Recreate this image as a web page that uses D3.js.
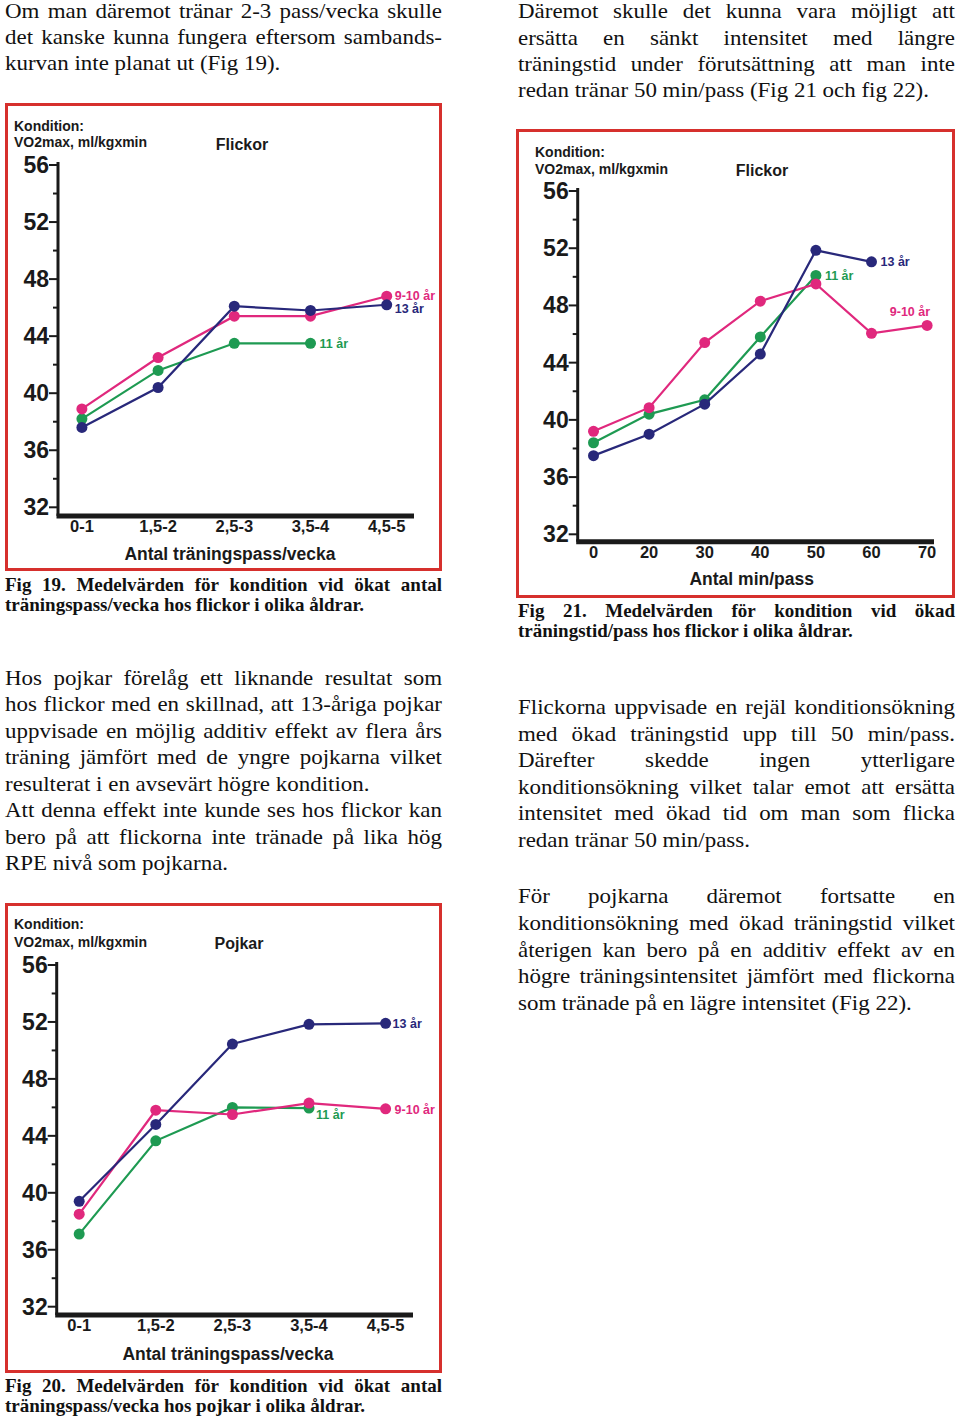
<!DOCTYPE html>
<html>
<head>
<meta charset="utf-8">
<script src="https://cdn.jsdelivr.net/npm/d3@7"></script>
<style>
  html, body { margin: 0; padding: 0; background: #fff; }
  svg { display: block; }
</style>
</head>
<body>
<script>
// ---------- DATA ----------
const catsPass = ["0-1", "1,5-2", "2,5-3", "3,5-4", "4,5-5"];
const catsMin = ["0", "20", "30", "40", "50", "60", "70"];
const yTicks = [32, 36, 40, 44, 48, 52, 56];
const seriesNames = ["9-10 år", "11 år", "13 år"];

// Fig 19 – Flickor, pass/vecka
const fig19_9_10 = [38.9, 42.5, 45.4, 45.4, 46.8];
const fig19_11   = [38.2, 41.6, 43.5, 43.5, null];
const fig19_13   = [37.6, 40.4, 46.1, 45.8, 46.2];

// Fig 21 – Flickor, min/pass
const fig21_9_10 = [39.2, 40.85, 45.4, 48.3, 49.5, 46.05, 46.6];
const fig21_11   = [38.4, 40.4, 41.4, 45.8, 50.1, null, null];
const fig21_13   = [37.5, 39.0, 41.1, 44.6, 51.85, 51.05, null];

// Fig 20 – Pojkar, pass/vecka
const fig20_9_10 = [38.5, 45.8, 45.5, 46.3, 45.9];
const fig20_11   = [37.1, 43.65, 46.0, 45.95, null];
const fig20_13   = [39.4, 44.8, 50.45, 51.83, 51.9];

// ---------- TEXT ----------
const paraTopLeft = [
  ["Om man däremot tränar 2-3 pass/vecka skulle", true],
  ["det kanske kunna fungera eftersom sambands-", true],
  ["kurvan inte planat ut (Fig 19).", false]
];
const paraTopRight = [
  ["Däremot skulle det kunna vara möjligt att", true],
  ["ersätta en sänkt intensitet med längre", true],
  ["träningstid under förutsättning att man inte", true],
  ["redan tränar 50 min/pass (Fig 21 och fig 22).", false]
];
const capFig19 = [
  ["Fig 19. Medelvärden för kondition vid ökat antal", true],
  ["träningspass/vecka hos flickor i olika åldrar.", false]
];
const capFig21 = [
  ["Fig 21. Medelvärden för kondition vid ökad", true],
  ["träningstid/pass hos flickor i olika åldrar.", false]
];
const capFig20 = [
  ["Fig 20. Medelvärden för kondition vid ökat antal", true],
  ["träningspass/vecka hos pojkar i olika åldrar.", false]
];
const paraMidLeft = [
  ["Hos pojkar förelåg ett liknande resultat som", true],
  ["hos flickor med en skillnad, att 13-åriga pojkar", true],
  ["uppvisade en möjlig additiv effekt av flera års", true],
  ["träning jämfört med de yngre pojkarna vilket", true],
  ["resulterat i en avsevärt högre kondition.", false],
  ["Att denna effekt inte kunde ses hos flickor kan", true],
  ["bero på att flickorna inte tränade på lika hög", true],
  ["RPE nivå som pojkarna.", false]
];
const paraMidRight = [
  ["Flickorna uppvisade en rejäl konditionsökning", true],
  ["med ökad träningstid upp till 50 min/pass.", true],
  ["Därefter skedde ingen ytterligare", true],
  ["konditionsökning vilket talar emot att ersätta", true],
  ["intensitet med ökad tid om man som flicka", true],
  ["redan tränar 50 min/pass.", false]
];
const paraLowRight = [
  ["För pojkarna däremot fortsatte en", true],
  ["konditionsökning med ökad träningstid vilket", true],
  ["återigen kan bero på en additiv effekt av en", true],
  ["högre träningsintensitet jämfört med flickorna", true],
  ["som tränade på en lägre intensitet (Fig 22).", false]
];

// ---------- STYLE ----------
const colors = { "9-10 år": "#e0287d", "11 år": "#1e9a52", "13 år": "#28287a" };
const serif = "'Liberation Serif', 'Times New Roman', serif";
const sans = "'Liberation Sans', Arial, sans-serif";

const svg = d3.select("body").append("svg")
  .attr("width", 960).attr("height", 1418)
  .attr("viewBox", "0 0 960 1418");

// ---------- justified text (with optional horizontal stretch sx) ----------
function block(lines, x0, x1, y0, lh, size, weight, sx) {
  const g = svg.append("g")
    .attr("transform", `translate(${x0},0) scale(${sx},1)`)
    .attr("font-family", serif).attr("font-size", size)
    .attr("font-weight", weight).attr("fill", "#111");
  const w = (x1 - x0) / sx;
  lines.forEach(([str, just], i) => {
    const y = y0 + i * lh;
    if (!just) {
      g.append("text").attr("x", 0).attr("y", y).text(str);
      return;
    }
    const words = str.split(" ");
    const nodes = words.map(t => g.append("text").attr("y", y).text(t));
    const widths = nodes.map(n => n.node().getComputedTextLength());
    const gap = (w - d3.sum(widths)) / (words.length - 1);
    let x = 0;
    nodes.forEach((n, k) => { n.attr("x", x); x += widths[k] + gap; });
  });
}

const bodySize = 20.5, bodySx = 1.12;
block(paraTopLeft, 5, 442, 18.4, 26, bodySize, "normal", bodySx);
block(paraTopRight, 518, 955, 18.4, 26.3, bodySize, "normal", bodySx);
block(capFig19, 5, 442, 590.7, 20, 19, "bold", 1);
block(capFig21, 518, 955, 616.7, 20.5, 19, "bold", 1);
block(paraMidLeft, 5, 442, 685, 26.5, bodySize, "normal", bodySx);
block(paraMidRight, 518, 955, 714, 26.55, bodySize, "normal", bodySx);
block(paraLowRight, 518, 955, 903.3, 26.67, bodySize, "normal", bodySx);
block(capFig20, 5, 442, 1391.7, 20, 19, "bold", 1);

// ---------- charts ----------
function chart(cfg) {
  const g = svg.append("g").attr("font-family", sans).attr("font-weight", "bold").attr("fill", "#1a1a1a");
  const f = cfg.frame;
  g.append("rect")
    .attr("x", f.x + 1.5).attr("y", f.y + 1.5)
    .attr("width", f.w - 3).attr("height", f.h - 3)
    .attr("fill", "#fff").attr("stroke", "#d6302d").attr("stroke-width", 3);

  const y = d3.scaleLinear().domain([32, 56]).range([cfg.y32, cfg.y56]);
  const x = d3.scalePoint().domain(cfg.cats).range(cfg.xRange);

  // header
  g.append("text").attr("x", cfg.headX).attr("y", cfg.headY1).attr("font-size", 14).text("Kondition:");
  g.append("text").attr("x", cfg.headX).attr("y", cfg.headY2).attr("font-size", 14).text("VO2max, ml/kgxmin");
  g.append("text").attr("x", cfg.titleX).attr("y", cfg.titleY).attr("font-size", 16)
    .attr("text-anchor", "middle").text(cfg.title);

  // y axis
  const minor = d3.range(34, 56, 4);
  g.selectAll(".minor").data(minor).join("line")
    .attr("x1", cfg.axisX - 5).attr("x2", cfg.axisX)
    .attr("y1", d => y(d)).attr("y2", d => y(d))
    .attr("stroke", "#1a1a1a").attr("stroke-width", 2);
  g.selectAll(".major").data(yTicks).join("line")
    .attr("x1", cfg.axisX - 9).attr("x2", cfg.axisX)
    .attr("y1", d => y(d)).attr("y2", d => y(d))
    .attr("stroke", "#1a1a1a").attr("stroke-width", 2);
  g.selectAll(".ylab").data(yTicks).join("text")
    .attr("x", cfg.axisX - 9).attr("y", d => y(d) + 8)
    .attr("text-anchor", "end").attr("font-size", 23).text(d => d);
  g.append("line")
    .attr("x1", cfg.axisX).attr("x2", cfg.axisX)
    .attr("y1", y(56) - 3).attr("y2", cfg.xAxisY)
    .attr("stroke", "#1a1a1a").attr("stroke-width", 3);

  // x axis
  g.append("line")
    .attr("x1", cfg.axisX - 1.5).attr("x2", cfg.xAxisRight)
    .attr("y1", cfg.xAxisY).attr("y2", cfg.xAxisY)
    .attr("stroke", "#1a1a1a").attr("stroke-width", 5);
  g.selectAll(".xlab").data(cfg.cats).join("text")
    .attr("x", d => x(d)).attr("y", cfg.xAxisY + 16.3)
    .attr("text-anchor", "middle").attr("font-size", 16.5).text(d => d);
  g.append("text").attr("x", cfg.xTitleX).attr("y", cfg.xTitleY)
    .attr("text-anchor", "middle").attr("font-size", 17.5).text(cfg.xTitle);

  // series: drawn green, pink, blue
  const order = ["11 år", "9-10 år", "13 år"];
  order.forEach(name => {
    const vals = cfg.series[name];
    const pts = cfg.cats.map((c, i) => ({ c, v: vals[i] })).filter(d => d.v != null);
    const col = colors[name];
    const line = d3.line().x(d => x(d.c)).y(d => y(d.v));
    g.append("path").attr("d", line(pts)).attr("fill", "none")
      .attr("stroke", col).attr("stroke-width", 2.2);
    g.selectAll(null).data(pts).join("circle")
      .attr("cx", d => x(d.c)).attr("cy", d => y(d.v)).attr("r", 5.5).attr("fill", col);
    const last = pts[pts.length - 1];
    const lp = cfg.labelPos[name];
    g.append("text")
      .attr("x", x(last.c) + lp.dx).attr("y", y(last.v) + lp.dy + 4.5)
      .attr("text-anchor", lp.anchor || "start")
      .attr("font-size", 12.5).attr("fill", col).text(name);
  });
}

chart({
  frame: { x: 5, y: 103, w: 437, h: 468 },
  cats: catsPass, xRange: [81.9, 386.7],
  axisX: 58, y56: 165, y32: 507.3, xAxisY: 516, xAxisRight: 414,
  headX: 14, headY1: 131, headY2: 147, title: "Flickor", titleX: 242, titleY: 150,
  xTitle: "Antal träningspass/vecka", xTitleX: 230, xTitleY: 560,
  series: { "9-10 år": fig19_9_10, "11 år": fig19_11, "13 år": fig19_13 },
  labelPos: { "9-10 år": { dx: 8, dy: -1 }, "11 år": { dx: 9, dy: 0 }, "13 år": { dx: 8, dy: 4 } }
});

chart({
  frame: { x: 516, y: 129, w: 439, h: 469 },
  cats: catsMin, xRange: [593.5, 927.1],
  axisX: 577.7, y56: 191, y32: 534.3, xAxisY: 541.7, xAxisRight: 934,
  headX: 535, headY1: 157.3, headY2: 174, title: "Flickor", titleX: 762, titleY: 175.7,
  xTitle: "Antal min/pass", xTitleX: 751.7, xTitleY: 585,
  series: { "9-10 år": fig21_9_10, "11 år": fig21_11, "13 år": fig21_13 },
  labelPos: { "9-10 år": { dx: 3, dy: -14, anchor: "end" }, "11 år": { dx: 9, dy: 0 }, "13 år": { dx: 9, dy: 0 } }
});

chart({
  frame: { x: 5, y: 903, w: 437, h: 470 },
  cats: catsPass, xRange: [79.2, 385.6],
  axisX: 56.7, y56: 965, y32: 1306.7, xAxisY: 1315, xAxisRight: 413,
  headX: 14, headY1: 929.3, headY2: 946.7, title: "Pojkar", titleX: 239, titleY: 949.3,
  xTitle: "Antal träningspass/vecka", xTitleX: 228, xTitleY: 1360,
  series: { "9-10 år": fig20_9_10, "11 år": fig20_11, "13 år": fig20_13 },
  labelPos: { "9-10 år": { dx: 9, dy: 1 }, "11 år": { dx: 7, dy: 6 }, "13 år": { dx: 7, dy: 0 } }
});
</script>
</body>
</html>
